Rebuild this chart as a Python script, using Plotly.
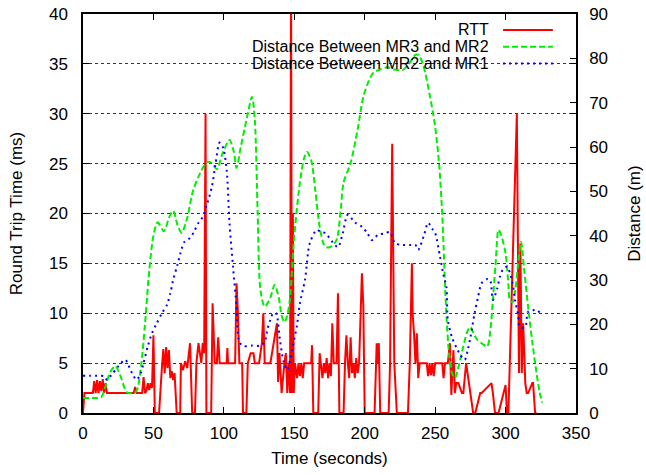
import plotly.graph_objects as go

# RTT (ms) series
rtt_t = [0, 1, 7, 8, 9, 10, 11, 12, 13, 14, 15, 16, 17, 36, 37, 38, 42, 43, 44, 45, 46, 47, 48, 49, 50, 51, 54,
         55, 56, 57, 58, 59, 60, 61, 62, 63, 64, 65, 66, 66.5, 69, 69.5, 71, 72.5, 74, 76, 77.5, 79.5, 80.5, 82, 83,
         84, 85, 86, 87, 87.6, 89, 91, 92, 93.5, 95, 96, 97, 102, 102.5, 103, 108, 109, 110, 111, 113, 113.6, 116,
         117, 119, 121, 122, 125, 127, 128, 129, 133, 137.7, 138.5, 139.5, 141, 143, 144, 145, 146, 147, 147.7,
         148.3, 149, 149.6, 150.5, 152, 153, 154, 155, 156, 157, 162, 162.6, 163.5, 167, 168, 169, 170, 171, 172,
         173, 174, 175, 176, 177, 178, 180, 181, 182, 185, 186, 187, 188, 189, 190, 191, 192, 193, 194, 195, 196,
         198, 199, 200, 207, 208.5, 209, 210, 211, 217, 218, 219.5, 221, 222.8, 230.7, 232, 233.5, 234, 235, 236,
         237, 238, 239, 244, 245, 246, 247, 248, 249, 250, 255, 256, 257, 259, 260.5, 261.5, 263, 264, 265, 266.5,
         269, 270, 272, 274.7, 277, 278.5, 282, 283, 290, 291, 292.5, 295, 300, 301, 302, 308, 309.5, 310.5, 311.5,
         312.5, 314, 315, 316, 319, 319.5, 321, 322, 326]
rtt_v = [0, 2, 2, 3.2, 2, 3.3, 2, 3.2, 2.2, 3.4, 2, 3, 2, 2, 2.6, 2, 2, 3.6, 2, 2.2, 3, 2.3, 3, 2.5, 7.8, 0, 0,
         2.8, 4.5, 6.4, 4, 6.6, 4.5, 6.3, 3.5, 4.2, 3.3, 4, 2, 0, 0, 5, 4.3, 5.2, 4.5, 7, 0, 0, 5, 7, 6,
         5, 7, 6, 30, 0, 0, 0, 11, 5, 5, 7.6, 5, 5, 6.5, 5, 5, 13, 10, 5, 5, 0, 0,
         5, 6, 6, 5, 5, 7, 10, 5, 5, 9, 3.1, 6, 2, 5, 6, 2, 5, 2, 45,
         2, 20, 2, 5, 3.5, 5, 3.7, 5, 3.5, 5, 5, 6.8, 0, 0, 6, 5, 3.5, 5, 4,
         5.5, 3.5, 5, 3.7, 9, 5, 5, 12, 0, 0, 5, 7.8, 5, 3.5, 7.6, 4, 5, 3.5, 5.5, 4, 5,
         14, 10.8, 0, 0, 7, 5, 7, 0, 0, 5, 27, 5, 0, 0, 5, 15, 10, 8, 5,
         8, 3.5, 5, 5, 3.7, 5, 3.8, 5, 3.7, 5, 5, 3.5, 5, 5, 7, 1.8, 6.3, 2, 3,
         3, 2, 2, 5, 2, 0, 0, 2, 2, 3, 2, 0, 0, 2.8, 0, 0, 30, 4, 17,
         4, 9, 3, 2, 2, 3, 3, 0, 0]

# Distance between MR3 and MR2 (m)
d32_t = [0, 5, 10, 13, 16, 19, 23, 27, 31, 35, 38, 41, 44, 47, 50, 53, 57.5, 61, 64, 67, 70, 74, 78, 83, 88, 91,
         95, 99, 104, 107, 109, 112, 116, 120, 122, 124, 126, 129, 133, 136, 139, 141, 143, 145, 147, 150, 154, 157,
         159, 162, 165, 168, 171, 173, 176, 180, 183, 185, 190, 195, 199, 203, 206, 211, 216, 221, 227, 232, 236,
         238, 241, 243, 246, 249, 251, 253, 255, 256, 258, 260, 262, 264, 267, 270, 273, 275, 278, 280, 284, 287,
         289, 291, 293, 295, 297, 300, 302, 303, 305, 307, 309, 311, 313, 316, 319, 322, 324, 326]
d32_v = [3.4, 3.4, 3.4, 3.6, 6, 9, 10.6, 8, 4.7, 4.5, 5, 10, 20, 32, 40, 43, 41, 44, 45.6, 42.5, 40.6, 44, 50, 54,
         56.6, 56.5, 55, 58.5, 61.6, 59, 55.3, 60, 66, 71.3, 66, 45, 27.7, 24, 26, 28.9, 26, 22, 20.5, 22, 26, 40,
         52, 57.5, 58.9, 57, 50, 42, 38, 37.4, 37.5, 39, 46, 52, 56.4, 64, 71.3, 75, 76.7, 77.5, 78, 77.5, 77.4,
         79, 80.8, 80.8, 79, 76.7, 72, 66.8, 62, 55.5, 45, 37.4, 22, 13, 9, 7.9, 11, 15, 18.5, 19.4, 17.5, 16.5,
         15.5, 15, 18, 25.5, 34, 41.3, 40, 36, 29, 25.5, 25, 28, 34, 38.6, 33, 24, 16, 9, 5, 2.3]

# Distance between MR2 and MR1 (m)
d21_t = [0, 5, 10, 15, 17, 20, 25, 30, 34, 38, 41, 43, 46, 49, 52, 56, 59.6, 62, 64, 67, 70, 72, 76, 79, 82, 85,
         88, 91.5, 94, 97, 99.5, 102, 104, 106.5, 109, 111, 114, 120, 126, 129, 131, 133, 135, 137, 140, 142.5, 145,
         147, 149, 152, 154, 157.6, 161, 166, 169, 172, 177, 181, 184, 188, 193, 198, 202, 205, 209.5, 214, 218,
         221.5, 227, 232, 236, 238, 242, 245, 248, 250, 253.5, 256, 258, 259, 262, 266, 268, 271, 273, 275, 278,
         280.5, 283, 287, 289, 291, 294, 296, 298, 301, 304.5, 306.7, 309, 310, 314, 316, 322, 326]
d21_v = [8.4, 8.4, 8.4, 8.3, 7.5, 8.5, 10.5, 12, 9.5, 7.5, 9, 11.3, 15, 18, 20, 22.5, 24.4, 27, 30, 33.4, 37, 38.6,
         39.5, 41, 42.9, 44.2, 47, 51, 56, 61, 59.8, 54.8, 42.9, 33, 24, 16, 15.1, 15.2, 15.2, 16, 19, 21, 22.5,
         22.5, 16, 11.5, 9.7, 12, 15, 20, 24.8, 30, 38.3, 41.3, 40.8, 40.6, 38.6, 37.4, 40, 44.7, 43, 42, 40.5, 39,
         40.2, 40.5, 40.8, 38.3, 37.9, 37.9, 37.9, 36.8, 40, 42.9, 41.5, 40.6, 35.2, 31, 28.4, 21, 17, 14.2, 13,
         12, 14, 17, 22.5, 26.2, 29.3, 30.2, 30, 25.5, 28, 30.7, 32.3, 33, 30, 25.5, 22, 19.4, 19.4, 22.8, 23.2, 22]

legend_names = ["RTT", "Distance Between MR3 and MR2", "Distance Between MR2 and MR1"]
x_ticks = [0, 50, 100, 150, 200, 250, 300, 350]
y_ticks = [0, 5, 10, 15, 20, 25, 30, 35, 40]
y2_ticks = [0, 10, 20, 30, 40, 50, 60, 70, 80, 90]

FONT = "Liberation Sans, Arial, Helvetica, sans-serif"
RED, GREEN, BLUE = "#ff0000", "#00ee00", "#0000ff"

fig = go.Figure()
fig.add_trace(go.Scatter(x=rtt_t, y=rtt_v, mode="lines", name=legend_names[0],
                         line=dict(color=RED, width=2), yaxis="y", showlegend=False))
fig.add_trace(go.Scatter(x=d32_t, y=d32_v, mode="lines", name=legend_names[1],
                         line=dict(color=GREEN, width=2, dash="6px,3px", shape="spline", smoothing=0.8),
                         yaxis="y2", showlegend=False))
fig.add_trace(go.Scatter(x=d21_t, y=d21_v, mode="lines", name=legend_names[2],
                         line=dict(color=BLUE, width=2, dash="2px,4px", shape="spline", smoothing=0.8),
                         yaxis="y2", showlegend=False))

# gnuplot-style legend: right-aligned text with line sample on the right
colors = [RED, GREEN, BLUE]
dashes = ["solid", "6px,3px", "2px,4px"]
rows = [0.960, 0.918, 0.876]
shapes = []
annotations = []
for name, c, d, yy in zip(legend_names, colors, dashes, rows):
    annotations.append(dict(text=name, xref="paper", yref="paper", x=0.8276, y=yy, xanchor="right",
                            yanchor="middle", showarrow=False, font=dict(size=16, color="black", family=FONT)))
    shapes.append(dict(type="line", xref="paper", yref="paper", x0=0.852, x1=0.953, y0=yy, y1=yy,
                       line=dict(color=c, width=2, dash=d)))

axis_common = dict(showline=True, linecolor="black", linewidth=1.5, ticks="inside", ticklen=6,
                   tickcolor="black", tickfont=dict(size=17, family=FONT, color="black"), zeroline=False,
                   automargin=False)

fig.update_layout(
    width=646, height=475,
    margin=dict(l=83, r=70, t=14, b=62),
    plot_bgcolor="white", paper_bgcolor="white",
    font=dict(family=FONT, size=17, color="black"),
    xaxis=dict(range=[0, 350], tickvals=x_ticks, showgrid=False, mirror="ticks", ticklabelstandoff=4,
               title=dict(text="Time (seconds)", font=dict(size=17), standoff=10), **axis_common),
    yaxis=dict(range=[0, 40], tickvals=y_ticks, showgrid=True, gridcolor="#333", griddash="dot",
               gridwidth=1, mirror="ticks", ticklabelstandoff=10,
               title=dict(text="Round Trip Time (ms)", font=dict(size=17), standoff=22), **axis_common),
    yaxis2=dict(range=[0, 90], tickvals=y2_ticks, overlaying="y", side="right", showgrid=False,
                ticklabelstandoff=8,
                title=dict(text="Distance (m)", font=dict(size=17), standoff=21), **axis_common),
    shapes=shapes, annotations=annotations, showlegend=False,
)

fig.write_html("out.html", config={"displayModeBar": False},
               post_script="document.body.style.margin='0';document.body.style.padding='0';")
